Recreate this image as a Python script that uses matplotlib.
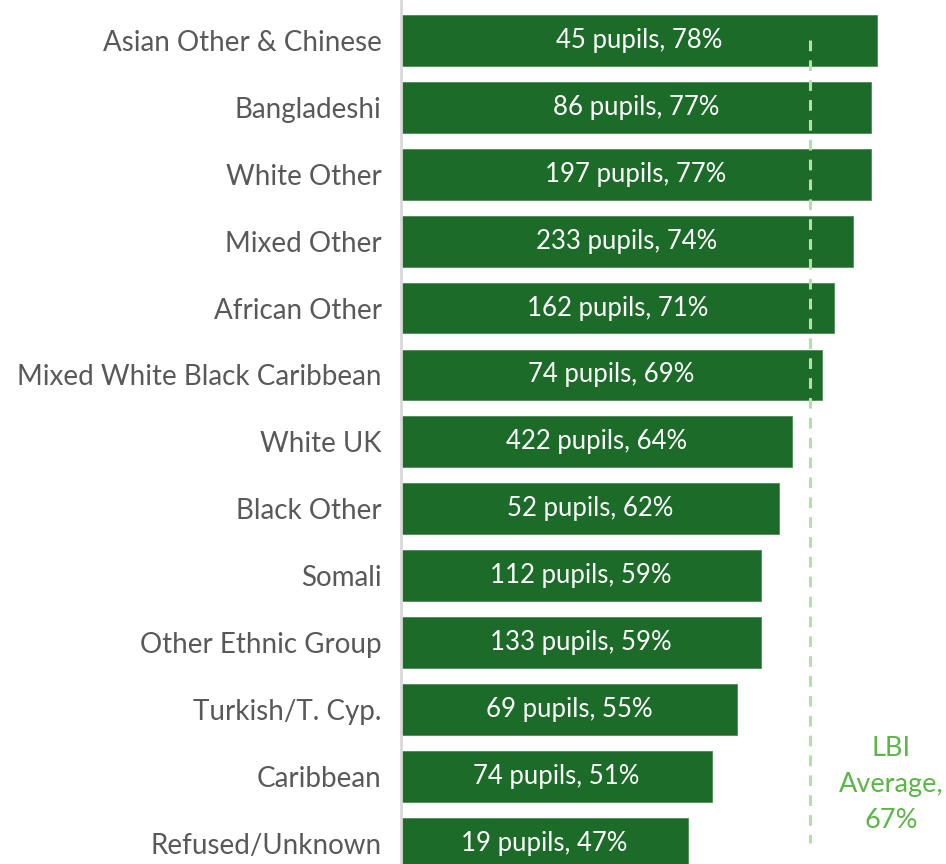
import matplotlib.pyplot as plt

# données
groupes = ["Asian Other & Chinese", "Bangladeshi", "White Other", "Mixed Other",
           "African Other", "Mixed White Black Caribbean", "White UK", "Black Other",
           "Somali", "Other Ethnic Group", "Turkish/T. Cyp.", "Caribbean", "Refused/Unknown"]
pourcentages = [78, 77, 77, 74, 71, 69, 64, 62, 59, 59, 55, 51, 47]
eleves = [45, 86, 197, 233, 162, 74, 422, 52, 112, 133, 69, 74, 19]
moyenne_lbi = 67

plt.rcParams['font.family'] = ['Lato', 'DejaVu Sans']

fig = plt.figure(figsize=(9.46, 8.64), dpi=100)
ax = fig.add_axes([401 / 946, 0, 1 - 401 / 946, 1])

y = list(range(len(groupes)))
ax.barh(y, pourcentages, height=0.76, color='#1c6b28', edgecolor='#4f8a58', linewidth=0.6, zorder=2)

for i, (p, n) in enumerate(zip(pourcentages, eleves)):
    ax.text(p / 2, i, f"{n} pupils, {p}%", color='white', fontsize=18.5,
            ha='center', va='center', zorder=4)

# ligne de la moyenne
ax.plot([moyenne_lbi, moyenne_lbi], [0, len(groupes) - 1], color='#b3e0aa',
        linestyle=(0, (3.5, 3)), linewidth=2.2, zorder=3)
ax.text(80.3, 11.12, "LBI\nAverage,\n67%", color='#5cb548', fontsize=19.5,
        ha='center', va='center', linespacing=1.55)

ax.set_xlim(0, 89.3)
ax.set_ylim(12.31, -0.605)
ax.set_yticks(y)
ax.set_yticklabels(groupes, fontsize=20, color='#595959')
ax.tick_params(axis='y', length=0, pad=14)
ax.set_xticks([])
for s in ['top', 'right', 'bottom']:
    ax.spines[s].set_visible(False)
ax.spines['left'].set_color('#d9d9d9')
ax.spines['left'].set_linewidth(2)

fig.savefig('out.png', dpi=100)
